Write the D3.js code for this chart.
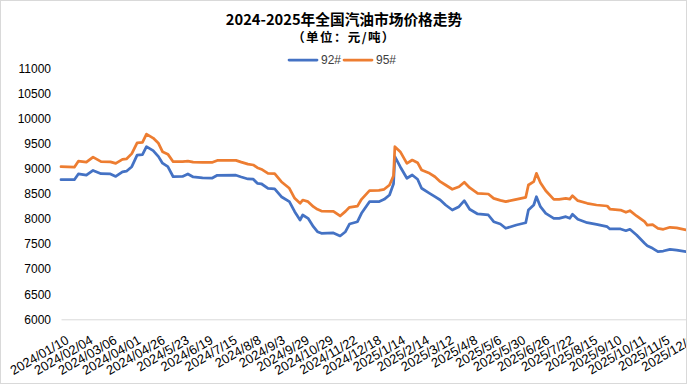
<!DOCTYPE html>
<html>
<head>
<meta charset="utf-8">
<script src="https://cdn.jsdelivr.net/npm/d3@7"></script>
<style>
  body { margin: 0; background: #fff; }
  svg { display: block; }
</style>
</head>
<body>
<script>
// x labels, one every 18 trading days
const tickLabels = [
    '2024/01/10', '2024/02/04', '2024/03/06', '2024/04/01', '2024/04/26', '2024/5/23',
    '2024/6/19', '2024/7/15', '2024/8/8', '2024/9/3', '2024/9/29', '2024/10/29',
    '2024/11/22', '2024/12/18', '2025/1/14', '2025/2/14', '2025/3/12', '2025/4/8',
    '2025/5/6', '2025/5/30', '2025/6/26', '2025/7/22', '2025/8/15', '2025/9/10',
    '2025/10/11', '2025/11/5', '2025/12/1'
];
const labelStep = 18;
const lastDay = 468;

// trading-day index of each reading
const dayIdx = [
    0, 10, 13, 19, 24, 30, 37, 41, 46, 49, 53, 57, 61, 64, 69, 73, 76, 80, 84, 91,
    95, 99, 106, 113, 117, 131, 135, 140, 144, 147, 150, 155, 160, 165, 171, 175, 179, 181, 185, 189,
    192, 195, 204, 209, 213, 216, 222, 225, 231, 238, 242, 246, 249, 250, 254, 259, 263, 267, 270, 276,
    280, 284, 288, 293, 298, 302, 306, 312, 320, 324, 329, 333, 341, 348, 350, 354, 356, 359, 363, 369,
    373, 378, 381, 383, 387, 394, 401, 409, 411, 419, 423, 426, 431, 437, 439, 443, 447, 451, 456, 461,
    468
];

const price92 = [
    8780, 8780, 8895, 8870, 8965, 8900, 8895, 8845, 8935, 8950, 9040, 9270, 9280, 9440, 9360, 9240, 9110, 9040, 8840, 8845,
    8895, 8835, 8815, 8810, 8868, 8870, 8835, 8795, 8790, 8709, 8700, 8610, 8600, 8442, 8343, 8143, 7978, 8078, 8012, 7845,
    7745, 7713, 7720, 7660, 7745, 7898, 7944, 8111, 8343, 8343, 8390, 8476, 8700, 9239, 9040, 8809, 8874, 8789, 8610, 8510,
    8442, 8376, 8277, 8177, 8243, 8363, 8191, 8098, 8078, 7944, 7898, 7813, 7878, 7924, 8177, 8277, 8442, 8243, 8111, 8012,
    8012, 8044, 8012, 8092, 7992, 7924, 7892, 7845, 7799, 7799, 7765, 7793, 7680, 7514, 7466, 7414, 7347, 7360, 7394, 7380,
    7350
];

const price95 = [
    9040, 9030, 9150, 9130, 9230, 9140, 9135, 9105, 9185, 9195, 9300, 9515, 9525, 9690, 9610, 9506, 9340, 9290, 9140, 9140,
    9150, 9130, 9125, 9125, 9165, 9165, 9130, 9090, 9074, 9020, 8990, 8908, 8900, 8741, 8610, 8410, 8311, 8376, 8343, 8243,
    8191, 8157, 8150, 8058, 8150, 8231, 8255, 8390, 8562, 8570, 8590, 8675, 8860, 9438, 9339, 9107, 9173, 9120, 8974, 8908,
    8840, 8741, 8675, 8590, 8641, 8729, 8622, 8510, 8496, 8410, 8370, 8343, 8390, 8430, 8675, 8741, 8908, 8720, 8560, 8390,
    8390, 8410, 8396, 8462, 8363, 8311, 8277, 8257, 8197, 8177, 8131, 8164, 8058, 7944, 7878, 7885, 7813, 7793, 7833, 7820,
    7780
];

const yTicks = [6000, 6500, 7000, 7500, 8000, 8500, 9000, 9500, 10000, 10500, 11000];
const seriesNames = ['92#', '95#'];
const colors = ['#4472C4', '#ED7D31'];

const width = 688;
const height = 386;
const plot = { left: 61, right: 686, top: 68.3, bottom: 319.3 };

const svg = d3.select('body').append('svg')
    .attr('width', width)
    .attr('height', height)
    .style('background-color', 'white');

svg.append('defs').append('clipPath')
    .attr('id', 'chart-clip')
    .append('rect')
    .attr('x', 0).attr('y', 0)
    .attr('width', 686).attr('height', 384);

const chart = svg.append('g').attr('clip-path', 'url(#chart-clip)');

const x = d3.scaleLinear()
    .domain([0, lastDay])
    .range([plot.left, plot.right]);

const y = d3.scaleLinear()
    .domain([6000, 11000])
    .range([plot.bottom, plot.top]);

// title
chart.append('text')
    .attr('x', 344).attr('y', 24.5)
    .attr('text-anchor', 'middle')
    .style('font-family', '"Noto Sans CJK SC", sans-serif')
    .style('font-weight', 'bold')
    .style('font-size', '14.7px')
    .style('fill', '#000')
    .text('2024-2025年全国汽油市场价格走势');

chart.append('text')
    .attr('x', 344).attr('y', 42)
    .attr('text-anchor', 'middle')
    .style('font-family', '"Noto Sans CJK SC", sans-serif')
    .style('font-weight', 'bold')
    .style('font-size', '12.5px')
    .style('letter-spacing', '1.4px')
    .style('fill', '#000')
    .text('（单位：元/吨）');

// legend
const legendPos = [289, 344];
seriesNames.forEach((name, i) => {
    const lg = chart.append('g').attr('transform', `translate(${legendPos[i]},60)`);
    lg.append('line')
        .attr('x1', 0).attr('x2', 28)
        .attr('stroke', colors[i])
        .attr('stroke-width', 2.75)
        .attr('stroke-linecap', 'round');
    lg.append('text')
        .attr('x', 32).attr('dy', '0.35em')
        .style('font-family', '"Liberation Sans", Arial, sans-serif')
        .style('font-size', '12px')
        .style('fill', '#404040')
        .text(name);
});

// y axis
chart.append('g')
    .attr('transform', `translate(${plot.left},0)`)
    .call(d3.axisLeft(y).tickValues(yTicks).tickFormat(d3.format('d')).tickSize(0).tickPadding(10))
    .call(g => g.select('.domain').remove())
    .call(g => g.selectAll('text')
        .style('font-family', '"Liberation Sans", Arial, sans-serif')
        .style('font-size', '12px')
        .style('fill', '#000'));

// x axis
chart.append('g')
    .attr('transform', `translate(0,${plot.bottom})`)
    .call(d3.axisBottom(x)
        .tickValues(tickLabels.map((d, i) => i * labelStep))
        .tickFormat((d, i) => tickLabels[i])
        .tickSize(0)
        .tickSizeOuter(0))
    .call(g => g.select('.domain').attr('stroke', '#d9d9d9'))
    .call(g => g.selectAll('text')
        .attr('x', 0).attr('y', 0)
        .attr('dy', '0.35em')
        .attr('text-anchor', 'end')
        .attr('transform', 'translate(6,19.5) rotate(-30)')
        .style('font-family', '"Liberation Sans", Arial, sans-serif')
        .style('font-size', '13px')
        .style('fill', '#000'));

// lines
const line = d3.line()
    .x((d, i) => x(dayIdx[i]))
    .y(d => y(d));

[price92, price95].forEach((values, i) => {
    chart.append('path')
        .datum(values)
        .attr('fill', 'none')
        .attr('stroke', colors[i])
        .attr('stroke-width', 2.75)
        .attr('stroke-linejoin', 'round')
        .attr('stroke-linecap', 'round')
        .attr('d', line);
});

// chart border
svg.append('rect')
    .attr('x', 0.5).attr('y', 0.5)
    .attr('width', 686).attr('height', 383)
    .attr('fill', 'none')
    .attr('stroke', '#d9d9d9');
</script>
</body>
</html>
